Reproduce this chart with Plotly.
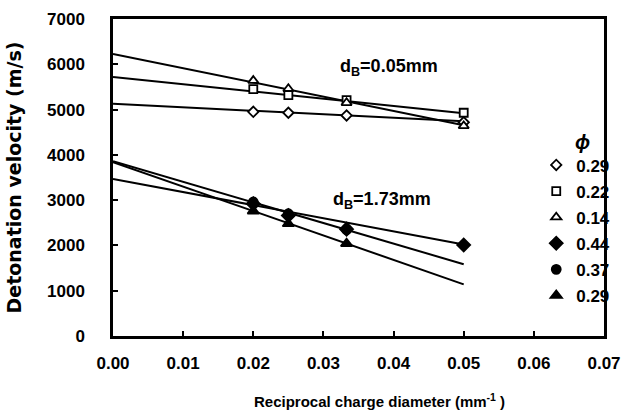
import numpy as np
import plotly.graph_objects as go

# Reciprocal charge diameter (1/mm)
recip_d = [0.02, 0.025, 0.0333, 0.05]

# Detonation velocity (m/s), glass beads d_B = 0.05 mm
v_029_fine = [4950, 4930, 4870, 4720]
v_022_fine = [5450, 5320, 5210, 4930]
v_014_fine = [5640, 5460, 5150, 4640]

# Detonation velocity (m/s), glass beads d_B = 1.73 mm
v_044_coarse = [2920, 2660, 2360, 2010]
v_037_coarse = [2960, 2700, 2350, None]
v_029_coarse = [2760, 2480, 2040, None]

# Linear trend lines: intercept (m/s) and slope (m/s per 1/mm)
fit_intercepts = [5130, 5720, 6230, 3470, 3860, 3840]
fit_slopes = [-7800, -16000, -31500, -29000, -45500, -54000]
fit_x_range = [0.0, 0.05]

phi_labels = ["0.29", "0.22", "0.14", "0.44", "0.37", "0.29"]
series = [v_029_fine, v_022_fine, v_014_fine, v_044_coarse, v_037_coarse, v_029_coarse]
symbols = ["diamond", "square", "triangle-up", "diamond", "circle", "triangle-up"]
fills = ["white", "white", "white", "black", "black", "black"]
sizes = [8, 8, 9, 10, 9, 10]

x_ticks = [0.0, 0.01, 0.02, 0.03, 0.04, 0.05, 0.06, 0.07]
y_ticks = [0, 1000, 2000, 3000, 4000, 5000, 6000, 7000]

FONT = "Liberation Sans"
WIDE = "DejaVu Sans"

fig = go.Figure()

# trend lines
fx = np.array(fit_x_range)
for b, m in zip(fit_intercepts, fit_slopes):
    fig.add_trace(go.Scatter(
        x=fx, y=b + m * fx, mode="lines",
        line=dict(color="black", width=2),
        showlegend=False, hoverinfo="skip"))

# measured points
for i, (vals, sym, fc, sz, lab) in enumerate(zip(series, symbols, fills, sizes, phi_labels)):
    fig.add_trace(go.Scatter(
        x=recip_d, y=vals, mode="markers", name=lab,
        legendgroup=f"g{i}",
        marker=dict(symbol=sym, size=sz, color=fc,
                    line=dict(color="black", width=1.8))))

fig.update_layout(
    width=627, height=417,
    margin=dict(l=113, r=19, t=19, b=81),
    paper_bgcolor="white", plot_bgcolor="white",
    font=dict(family=FONT, size=16, color="black"),
    showlegend=True,
    legend=dict(
        x=0.862, y=0.595, xanchor="left", yanchor="top",
        bgcolor="rgba(0,0,0,0)", borderwidth=0,
        tracegroupgap=1, itemwidth=30,
        font=dict(family=FONT, size=17, color="black", weight="bold")),
    xaxis=dict(
        range=[0, 0.07], tickvals=x_ticks,
        ticktext=[f"{t:.2f}" for t in x_ticks],
        showgrid=False, zeroline=False, automargin=False,
        showline=True, linecolor="black", linewidth=2.5, mirror=True,
        ticks="inside", ticklen=5, tickwidth=2, tickcolor="black",
        ticklabelstandoff=10,
        tickfont=dict(family=FONT, size=17, weight="bold")),
    yaxis=dict(
        range=[0, 7000], tickvals=y_ticks,
        showgrid=False, zeroline=False, automargin=False,
        showline=True, linecolor="black", linewidth=2.5, mirror=True,
        ticks="inside", ticklen=5, tickwidth=2, tickcolor="black",
        ticklabelstandoff=22,
        tickfont=dict(family=FONT, size=17, weight="bold"),
        title=dict(text="Detonation velocity (m/s)",
                   font=dict(family=WIDE, size=19, weight="bold"), standoff=21)),
    annotations=[
        dict(x=0.543, y=-0.205, xref="paper", yref="paper", showarrow=False,
             xanchor="center", yanchor="middle",
             text="Reciprocal charge diameter (mm<sup>-1</sup> )",
             font=dict(family=FONT, size=15, weight="bold")),
        dict(x=0.0393, y=5940, xref="x", yref="y", showarrow=False,
             text="d<sub>B</sub>=0.05mm",
             font=dict(family=FONT, size=18, weight="bold")),
        dict(x=0.0383, y=3003, xref="x", yref="y", showarrow=False,
             text="d<sub>B</sub>=1.73mm",
             font=dict(family=FONT, size=18, weight="bold")),
        dict(x=0.0669, y=4280, xref="x", yref="y", showarrow=False,
             text="<i>ϕ</i>",
             font=dict(family=FONT, size=20, weight="bold")),
    ],
)

fig.write_html("out.html")
